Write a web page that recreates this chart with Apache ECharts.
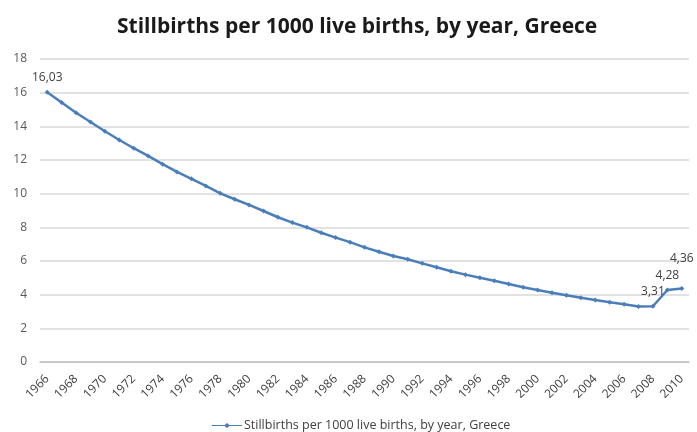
<!DOCTYPE html>
<html>
<head>
<meta charset="utf-8">
<script src="https://cdn.jsdelivr.net/npm/echarts@6/dist/echarts.min.js"></script>
<style>
  html, body { margin: 0; padding: 0; background: #fff; }
  #chart { width: 697px; height: 432px; }
</style>
</head>
<body>
<div id="chart"></div>
<script>
// Stillbirths per 1000 live births in Greece, 1966–2010
const years = [
  '1966','1967','1968','1969','1970','1971','1972','1973','1974','1975',
  '1976','1977','1978','1979','1980','1981','1982','1983','1984','1985',
  '1986','1987','1988','1989','1990','1991','1992','1993','1994','1995',
  '1996','1997','1998','1999','2000','2001','2002','2003','2004','2005',
  '2006','2007','2008','2009','2010'
];
const stillbirths = [
  16.03, 15.41, 14.81, 14.26, 13.71, 13.19, 12.70, 12.24, 11.75, 11.29,
  10.88, 10.46, 10.02, 9.67, 9.33, 8.97, 8.60, 8.28, 8.00, 7.68,
  7.39, 7.12, 6.81, 6.55, 6.30, 6.10, 5.86, 5.63, 5.39, 5.19,
  5.01, 4.83, 4.63, 4.44, 4.28, 4.12, 3.96, 3.82, 3.68, 3.55,
  3.43, 3.30, 3.31, 4.28, 4.36
];
// Years whose values are printed next to the line
const labelledYears = ['1966', '2008', '2009', '2010'];
const yTicks = { min: 0, max: 18, step: 2 };

const seriesName = 'Stillbirths per 1000 live births, by year, Greece';
const fmt = v => v.toFixed(2).replace('.', ',');

const points = stillbirths.map((v, i) => {
  const item = { value: v };
  if (labelledYears.includes(years[i])) {
    item.label = { show: true };
    if (years[i] === '2010') item.label.distance = 22;
  }
  return item;
});

const chart = echarts.init(document.getElementById('chart'), null, { renderer: 'canvas' });
chart.setOption({
  animation: false,
  backgroundColor: '#ffffff',
  title: {
    text: 'Stillbirths per 1000 live births, by year, Greece',
    left: 112,
    top: 12,
    textStyle: {
      fontFamily: 'Open Sans',
      fontSize: 21,
      fontWeight: 'bold',
      color: '#1a1a1a'
    }
  },
  grid: { left: 40, right: 8, top: 59, bottom: 70 },
  legend: {
    top: 414,
    left: 207,
    itemWidth: 30,
    itemHeight: 7,
    itemGap: 3,
    textStyle: { fontFamily: 'Open Sans', fontSize: 12.5, color: '#404040', padding: [0, 0, 0, -3] },
    data: [{
      name: seriesName,
      icon: 'path://M0,3.1 L30,3.1 L30,3.9 L0,3.9 Z M12,3.5 L15,1 L18,3.5 L15,6 Z'
    }]
  },
  xAxis: {
    type: 'category',
    data: years,
    boundaryGap: true,
    axisLine: { show: true, lineStyle: { color: '#bfbfbf', width: 1.5 } },
    axisTick: { show: false },
    axisLabel: {
      interval: 1,
      rotate: 45,
      margin: 15,
      fontFamily: 'Open Sans',
      fontSize: 12,
      color: '#404040'
    },
    splitLine: { show: false }
  },
  yAxis: {
    type: 'value',
    min: yTicks.min,
    max: yTicks.max,
    interval: yTicks.step,
    axisLine: { show: false },
    axisTick: { show: false },
    axisLabel: {
      margin: 13,
      fontFamily: 'Open Sans',
      fontSize: 12,
      color: '#595959'
    },
    splitLine: { lineStyle: { color: '#d9d9d9', width: 1.5 } }
  },
  series: [{
    name: seriesName,
    type: 'line',
    data: points,
    symbol: 'diamond',
    symbolSize: 5,
    showAllSymbol: true,
    lineStyle: { color: '#4a7ebb', width: 2.5 },
    itemStyle: { color: '#4a7ebb' },
    label: {
      show: false,
      position: 'top',
      distance: 6,
      formatter: p => fmt(p.value),
      fontFamily: 'Open Sans',
      fontSize: 12,
      color: '#404040'
    }
  }]
});
</script>
</body>
</html>
